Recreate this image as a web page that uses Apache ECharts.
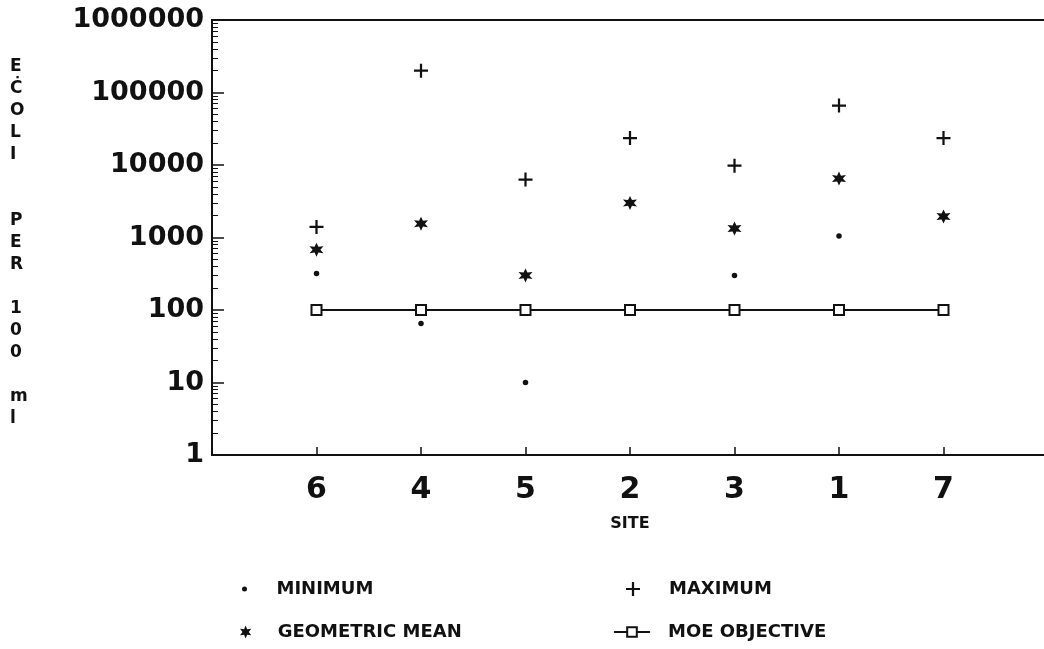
<!DOCTYPE html>
<html>
<head>
<meta charset="utf-8">
<script src="https://cdn.jsdelivr.net/npm/echarts@6/dist/echarts.min.js"></script>
<style>
html, body { margin: 0; padding: 0; background: #fff; }
#main { width: 1044px; height: 649px; }
</style>
</head>
<body>
<div id="main"></div>
<script>
// sites in the order they are plotted
var sites = ['6', '4', '5', '2', '3', '1', '7'];
// E. coli per 100 ml
var minimum = [320, 65, 10, null, 300, 1050, null];
var maximum = [1400, 200000, 6300, 23500, 9800, 66000, 23500];
var geoMean = [680, 1550, 300, 3000, 1330, 6500, 1950];
var objective = [100, 100, 100, 100, 100, 100, 100];
var yTickLabels = [1, 10, 100, 1000, 10000, 100000, 1000000];

var ink = '#111';
var font = 'DejaVu Sans';

function toPoints(arr) {
	return sites.map(function (s, i) { return [i + 1, arr[i]]; });
}

// minor ticks of the log axis, in decades
var minorTicks = [];
for (var d = 0; d < 6; d++) {
	for (var k = 2; k <= 9; k++) {
		minorTicks.push(d + Math.log10(k));
	}
}

var plusPath = 'path://M42,0h16v42h42v16h-42v42h-16v-42h-42v-16h42z';
// fat six-armed asterisk
var starPath = 'path://M50,0L62,29.2L93.3,25L74,50L93.3,75L62,70.8L50,100L38,70.8L6.7,75L26,50L6.7,25L38,29.2Z';

function legendText(padLeft) {
	return {
		color: ink,
		fontFamily: font,
		fontWeight: 'bold',
		fontSize: 18,
		padding: [0, 0, 0, padLeft]
	};
}

var myChart = echarts.init(document.getElementById('main'), null, { renderer: 'canvas' });
var option = {
	backgroundColor: '#fff',
	animation: false,
	grid: {
		left: 212,
		top: 20,
		width: 836,
		height: 435,
		outerBoundsMode: 'none',
		show: true,
		borderColor: ink,
		borderWidth: 2
	},
	graphic: [{
		type: 'text',
		left: 10,
		top: 56,
		style: {
			text: 'E\nĊ\nO\nL\nI\n\n\nP\nE\nR\n\n1\n0\n0\n\nm\nl',
			fill: ink,
			font: 'bold 17px "' + font + '"',
			lineHeight: 22,
			align: 'center'
		}
	}],
	legend: [{
		data: ['MINIMUM'],
		left: 237, top: 575,
		itemWidth: 36, itemHeight: 5,
		textStyle: legendText(9)
	}, {
		data: ['GEOMETRIC MEAN'],
		left: 235, top: 618,
		itemWidth: 36, itemHeight: 13,
		textStyle: legendText(9)
	}, {
		data: ['MAXIMUM'],
		left: 621, top: 575,
		itemWidth: 36, itemHeight: 14,
		textStyle: legendText(13)
	}, {
		data: ['MOE OBJECTIVE'],
		left: 608, top: 618,
		itemWidth: 36, itemHeight: 12,
		textStyle: legendText(13)
	}],
	xAxis: {
		type: 'value',
		min: 0,
		max: 8,
		interval: 1,
		name: 'SITE',
		nameLocation: 'middle',
		nameGap: 61,
		nameTextStyle: { color: ink, fontFamily: font, fontWeight: 'bold', fontSize: 16 },
		axisLine: { lineStyle: { color: ink, width: 2 } },
		axisTick: { inside: true, length: 8, lineStyle: { color: ink, width: 1.5 } },
		splitLine: { show: false },
		axisLabel: {
			margin: 20,
			color: ink,
			fontFamily: font,
			fontWeight: 'bold',
			fontSize: 30,
			formatter: function (v) { return sites[v - 1] || ''; }
		}
	},
	yAxis: [{
		type: 'log',
		logBase: 10,
		min: 1,
		max: 1000000,
		splitNumber: 6,
		position: 'left',
		axisLine: { show: true, lineStyle: { color: ink, width: 2 } },
		axisTick: { inside: true, length: 12, lineStyle: { color: ink, width: 1.5 } },
		splitLine: { show: false },
		axisLabel: {
			margin: 8,
			color: ink,
			fontFamily: font,
			fontWeight: 'bold',
			fontSize: 27,
			formatter: function (v) {
				var r = Math.round(v);
				return yTickLabels.indexOf(r) >= 0 ? String(r) : '';
			}
		}
	}, {
		type: 'value',
		min: 0,
		max: 6,
		position: 'left',
		axisLine: { show: false },
		axisLabel: { show: false },
		splitLine: { show: false },
		axisTick: {
			inside: true,
			length: 6,
			customValues: minorTicks,
			lineStyle: { color: ink, width: 1 }
		}
	}],
	series: [{
		name: 'MOE OBJECTIVE',
		type: 'line',
		data: toPoints(objective),
		symbol: 'emptyRect',
		symbolSize: 10,
		lineStyle: { color: ink, width: 2 },
		itemStyle: { color: ink, borderWidth: 2 },
		z: 2
	}, {
		name: 'MINIMUM',
		type: 'scatter',
		data: toPoints(minimum),
		symbol: 'circle',
		symbolSize: 5.5,
		itemStyle: { color: ink, opacity: 1 },
		z: 3
	}, {
		name: 'MAXIMUM',
		type: 'scatter',
		data: toPoints(maximum),
		symbol: plusPath,
		symbolSize: 14,
		itemStyle: { color: ink, opacity: 1 },
		z: 3
	}, {
		name: 'GEOMETRIC MEAN',
		type: 'scatter',
		data: toPoints(geoMean),
		symbol: starPath,
		symbolSize: 14,
		itemStyle: { color: ink, opacity: 1 },
		z: 3
	}]
};
myChart.setOption(option);
</script>
</body>
</html>
